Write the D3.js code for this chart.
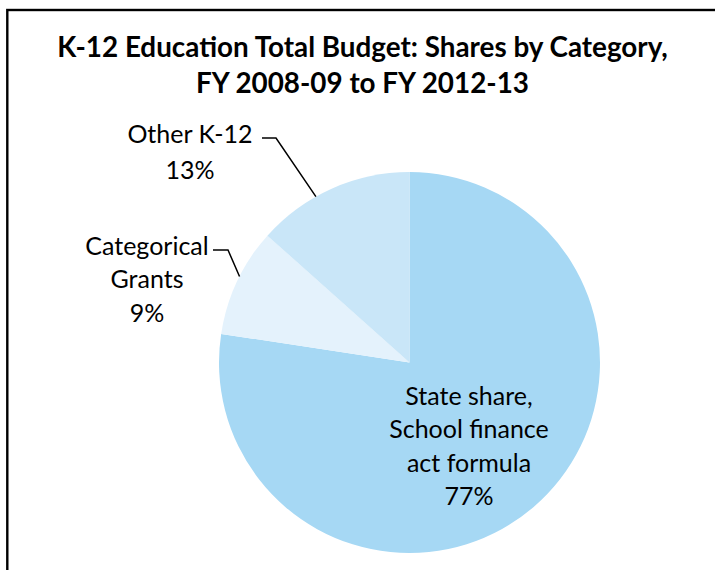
<!DOCTYPE html>
<html>
<head>
<meta charset="utf-8">
<script src="https://cdn.jsdelivr.net/npm/d3@7"></script>
<style>
  body { margin: 0; background: #fff; }
  text { font-family: Lato, "Open Sans", sans-serif; fill: #000; }
</style>
</head>
<body>
<svg id="chart" width="715" height="570"></svg>
<script>
// ---- data ----
const titleLines = ["K-12 Education Total Budget: Shares by Category,", "FY 2008-09 to FY 2012-13"];
const categories = ["State share, School finance act formula", "Categorical Grants", "Other K-12"];
const labelLines = [["State share,", "School finance", "act formula"], ["Categorical", "Grants"], ["Other K-12"]];
const shares = [77.4, 9.2, 13.4];
const sliceColors = ["#a6d8f4", "#e4f2fc", "#c9e6f8"];

// ---- layout ----
const W = 715, H = 570;
const cx = 409.5, cy = 362.5, R = 190.5;
const labelFont = 25;
const lineGap = 33.4;
// label anchor per slice: centre x, first baseline, optional leader (start x, elbow x, y, position inside slice)
const labelLayout = [
  { x: 469, y: 405, gap: lineGap, leader: null },
  { x: 147, y: 255, gap: lineGap, leader: { x0: 213, x1: 228, y: 250, t: 0.55 } },
  { x: 190, y: 143, gap: 36, leader: { x0: 262, x1: 276, y: 138, t: 0.39 } }
];

const svg = d3.select("#chart");

// frame
svg.append("rect")
  .attr("x", 7.3).attr("y", 10)
  .attr("width", W + 20).attr("height", H + 20)
  .attr("fill", "none").attr("stroke", "#000").attr("stroke-width", 2.4);

// title, sized so the first line spans the header width
const titleG = svg.append("g");
const t1 = titleG.append("text")
  .attr("x", 362.5).attr("y", 57).attr("text-anchor", "middle")
  .attr("font-weight", 700).attr("font-size", 26).text(titleLines[0]);
const fitSize = 26 * 611 / t1.node().getComputedTextLength();
t1.attr("font-size", fitSize);
titleG.append("text")
  .attr("x", 362.5).attr("y", 93).attr("text-anchor", "middle")
  .attr("font-weight", 700).attr("font-size", fitSize).text(titleLines[1]);

// pie
const pie = d3.pie().sort(null).value(d => d);
const arcs = pie(shares);
const arc = d3.arc().innerRadius(0).outerRadius(R);
const color = d3.scaleOrdinal().domain(categories).range(sliceColors);

const g = svg.append("g").attr("transform", `translate(${cx},${cy})`);
g.selectAll("path.slice")
  .data(arcs)
  .join("path")
  .attr("class", "slice")
  .attr("d", arc)
  .attr("fill", (d, i) => color(categories[i]));

// labels
const pct = d3.format(".0f");
arcs.forEach((a, i) => {
  const L = labelLayout[i];
  const lines = labelLines[i].concat([pct(shares[i]) + "%"]);
  const txt = svg.append("text")
    .attr("text-anchor", "middle")
    .attr("font-size", labelFont);
  lines.forEach((s, k) => {
    txt.append("tspan").attr("x", L.x).attr("y", L.y + k * L.gap).text(s);
  });
  if (L.leader) {
    const ang = a.startAngle + L.leader.t * (a.endAngle - a.startAngle);
    const ex = cx + R * Math.sin(ang), ey = cy - R * Math.cos(ang);
    svg.append("polyline")
      .attr("points", `${L.leader.x0},${L.leader.y} ${L.leader.x1},${L.leader.y} ${ex},${ey}`)
      .attr("fill", "none").attr("stroke", "#000").attr("stroke-width", 1.5);
  }
});
</script>
</body>
</html>
